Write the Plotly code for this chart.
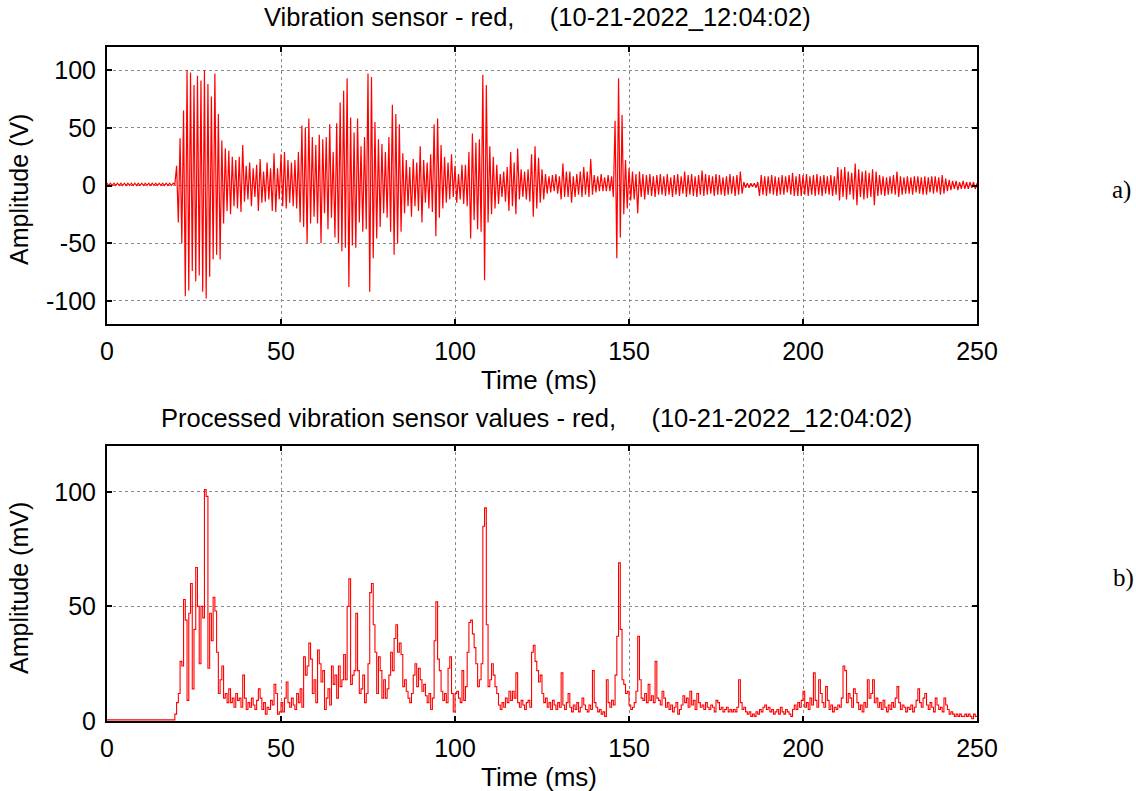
import numpy as np
import plotly.graph_objects as go

# ---------------- data ----------------
time_top_ms = np.arange(0, 250.5, 0.5)   # sample grid, 0.5 ms
vib_V = [
    # 0-10
    2, 0, 2, 0, 2, 0, 2, 0, 2, 0, 2, 0, 2, 0, 2, 0, 2, 0, 2, 0,
    # 10-20
    2, 0, 2, 0, 2, 0, 2, 0, 2, 0, 2, 0, 2, 0, 2, 0, 2, 0, 2, 1,
    # 20-30
    17, -32, 41, -50, 65, -96, 100, -91, 98, -74, 87, -83, 95, -78, 91, -92, 100, -98, 88, -79,
    # 30-40
    77, -64, 97, -60, 62, -64, 39, -33, 32, -22, 30, -25, 25, -18, 22, -20, 25, -23, 35, -14,
    # 40-50
    17, -12, 20, -18, 15, -10, 18, -22, 23, -15, 12, -14, 20, -12, 15, -22, 28, -23, 15, -12,
    # 50-60
    27, -18, 29, -20, 22, -15, 20, -18, 22, -20, 29, -32, 52, -36, 50, -50, 58, -33, 42, -27,
    # 60-70
    35, -33, 44, -50, 40, -24, 42, -38, 53, -28, 29, -45, 54, -50, 72, -57, 82, -54, 93, -88,
    # 70-80
    59, -52, 46, -54, 58, -32, 34, -40, 42, -38, 97, -92, 94, -63, 55, -46, 40, -36, 36, -24,
    # 80-90
    29, -28, 42, -40, 70, -60, 62, -50, 53, -40, 28, -24, 22, -18, 16, -27, 23, -18, 20, -22,
    # 90-100
    34, -32, 22, -15, 20, -20, 27, -23, 53, -44, 58, -28, 35, -20, 25, -15, 20, -12, 27, -10,
    # 100-110
    17, -15, 10, -12, 18, -16, 18, -18, 29, -46, 45, -30, 37, -38, 40, -40, 96, -82, 87, -32,
    # 110-120
    34, -25, 25, -20, 18, -16, 10, -10, 12, -14, 16, -22, 29, -18, 20, -25, 32, -12, 14, -10,
    # 120-130
    12, -12, 14, -14, 27, -27, 34, -20, 24, -15, 14, -12, 10, -7, 8, -6, 9, -5, 10, -7,
    # 130-140
    8, -12, 19, -10, 12, -10, 12, -15, 8, -10, 10, -8, 12, -10, 16, -8, 12, -10, 23, -8,
    # 140-150
    9, -6, 8, -5, 10, -5, 7, -5, 9, -5, 8, -10, 56, -63, 93, -45, 61, -25, 22, -20,
    # 150-160
    15, -13, 12, -12, 10, -24, 12, -10, 10, -12, 9, -8, 10, -9, 8, -10, 9, -8, 10, -8,
    # 160-170
    8, -9, 10, -8, 7, -10, 9, -8, 10, -9, 8, -7, 12, -10, 9, -8, 10, -9, 8, -10,
    # 170-180
    9, -8, 13, -9, 10, -8, 9, -7, 8, -9, 10, -8, 9, -8, 7, -9, 8, -8, 10, -7,
    # 180-190
    8, -9, 9, -8, 12, -7, 3, -2, 2, -2, 2, -1, 2, -2, 3, -9, 9, -8, 8, -9,
    # 190-200
    8, -7, 9, -8, 8, -9, 7, -8, 9, -8, 8, -6, 9, -8, 11, -9, 8, -9, 10, -9,
    # 200-210
    9, -8, 10, -9, 8, -8, 9, -9, 10, -8, 8, -9, 9, -7, 8, -8, 9, -9, 8, -8,
    # 210-220
    16, -13, 14, -10, 16, -12, 12, -8, 11, -12, 19, -17, 14, -10, 12, -12, 13, -11, 11, -10,
    # 220-230
    14, -17, 12, -9, 9, -8, 8, -9, 7, -8, 8, -7, 9, -8, 12, -10, 8, -8, 7, -7,
    # 230-240
    8, -7, 7, -8, 8, -6, 8, -7, 7, -8, 8, -8, 7, -6, 8, -7, 8, -6, 7, -8,
    # 240-250
    9, -7, 6, -5, 5, -4, 4, -3, 4, -4, 3, -3, 4, -3, 3, -3, 3, -2, 3, -3,
    # 250
    2,
]

time_bot_ms = np.arange(0, 250.5, 0.5)
proc_mV = [
    # 0-10
    0.5, 0.5, 0.5, 0.5, 0.5, 0.5, 0.5, 0.5, 0.5, 0.5, 0.5, 0.5, 0.5, 0.5, 0.5, 0.5, 0.5, 0.5, 0.5, 0.5,
    # 10-20
    0.5, 0.5, 0.5, 0.5, 0.5, 0.5, 0.5, 0.5, 0.5, 0.5, 0.5, 0.5, 0.5, 0.5, 0.5, 0.5, 0.5, 0.5, 0.5, 3,
    # 20-30
    8, 12, 26, 24, 53, 44, 9, 47, 60, 14, 40, 67, 50, 25, 50, 45, 101, 98, 23, 47,
    # 30-40
    35, 54, 48, 30, 12, 18, 24, 10, 12, 8, 14, 8, 10, 6, 12, 9, 10, 6, 20, 10,
    # 40-50
    5, 8, 6, 10, 7, 5, 9, 14, 10, 5, 8, 3, 6, 5, 9, 7, 16, 12, 3, 4,
    # 50-60
    8, 4, 10, 17, 8, 6, 10, 7, 5, 12, 8, 14, 6, 28, 20, 24, 34, 27, 12, 18,
    # 60-70
    8, 31, 25, 17, 22, 5, 10, 14, 7, 24, 16, 20, 10, 24, 15, 18, 29, 18, 50, 62,
    # 70-80
    16, 20, 22, 47, 22, 12, 14, 20, 8, 12, 25, 56, 60, 42, 30, 12, 28, 22, 10, 18,
    # 80-90
    10, 14, 20, 30, 22, 36, 42, 30, 34, 29, 15, 18, 13, 10, 8, 12, 20, 25, 15, 23,
    # 90-100
    18, 13, 16, 11, 8, 12, 5, 10, 35, 52, 27, 22, 13, 9, 12, 8, 23, 28, 12, 4,
    # 100-110
    12, 13, 10, 8, 22, 9, 15, 30, 43, 44, 38, 32, 25, 15, 18, 25, 85, 93, 42, 15,
    # 110-120
    18, 25, 20, 15, 12, 7, 5, 8, 6, 10, 8, 13, 9, 13, 10, 21, 8, 6, 9, 7,
    # 120-130
    5, 8, 9, 6, 30, 33, 26, 22, 17, 20, 12, 8, 10, 6, 8, 5, 9, 7, 5, 8,
    # 130-140
    6, 21, 7, 5, 8, 12, 6, 4, 7, 5, 8, 4, 6, 10, 7, 5, 4, 7, 5, 22,
    # 140-150
    8, 6, 4, 5, 3, 4, 2, 18, 8, 6, 9, 7, 20, 37, 69, 40, 18, 16, 12, 13,
    # 150-160
    7, 5, 6, 8, 13, 37, 18, 10, 9, 12, 8, 16, 9, 11, 8, 26, 10, 9, 7, 13,
    # 160-170
    10, 6, 8, 5, 7, 4, 6, 8, 3, 5, 7, 11, 8, 10, 6, 13, 7, 9, 5, 12,
    # 170-180
    8, 6, 7, 5, 8, 6, 5, 7, 6, 4, 9, 8, 5, 6, 4, 5, 6, 4, 5, 4,
    # 180-190
    5, 4, 6, 18, 8, 5, 6, 4, 3, 4, 2, 3, 2, 4, 3, 5, 4, 6, 7, 5,
    # 190-200
    6, 4, 5, 3, 4, 5, 3, 6, 4, 3, 5, 4, 3, 2, 5, 7, 5, 8, 6, 9,
    # 200-210
    13, 6, 8, 5, 10, 7, 21, 9, 6, 18, 12, 8, 6, 15, 9, 5, 7, 4, 6, 5,
    # 210-220
    7, 6, 10, 24, 22, 8, 12, 10, 6, 14, 12, 8, 5, 7, 4, 8, 6, 18, 10, 12,
    # 220-230
    18, 8, 10, 6, 8, 5, 9, 6, 4, 7, 5, 8, 6, 10, 15, 8, 5, 7, 6, 4,
    # 230-240
    6, 5, 7, 4, 6, 9, 14, 8, 6, 10, 12, 7, 5, 8, 6, 4, 10, 7, 5, 6,
    # 240-250
    4, 10, 7, 5, 3, 4, 3, 2, 3, 2, 3, 2, 2, 3, 2, 3, 2, 1, 3, 2,
    # 250
    2,
]

x_ticks = [0, 50, 100, 150, 200, 250]
x_ticktext = ["0", "50", "100", "150", "200", "250"]
y_ticks_top = [-100, -50, 0, 50, 100]
y_ticktext_top = ["-100", "-50", "0", "50", "100"]
y_ticks_bot = [0, 50, 100]
y_ticktext_bot = ["0", "50", "100"]

title_top = "Vibration sensor - red,\u00a0\u00a0\u00a0\u00a0 (10-21-2022_12:04:02)"
title_bot = "Processed vibration sensor values - red,\u00a0\u00a0\u00a0\u00a0 (10-21-2022_12:04:02)"

# ---------------- figure ----------------
W, H = 1136, 791
FONT = "Liberation Sans, Arial, sans-serif"
SERIF = "Liberation Serif, Times New Roman, serif"

def px_x(p):
    return p / W

def px_y(p):
    return 1 - p / H

fig = go.Figure()
fig.add_trace(go.Scatter(x=time_top_ms, y=vib_V, mode="lines",
                         line=dict(color="#ff0000", width=1.2),
                         xaxis="x", yaxis="y", showlegend=False))
fig.add_trace(go.Scatter(x=time_bot_ms, y=proc_mV, mode="lines",
                         line=dict(color="#ff0000", width=1.1, shape="hv"),
                         xaxis="x2", yaxis="y2", showlegend=False))

common_axis = dict(
    showline=True, linecolor="black", linewidth=2, mirror="ticks",
    ticks="inside", ticklen=5, tickwidth=1.5, tickcolor="black",
    showgrid=True, gridcolor="#8a8a8a", gridwidth=1, griddash="dot",
    zeroline=False, automargin=False,
    tickfont=dict(family=FONT, size=25, color="black"),
)

xdom = [px_x(107), px_x(977)]
fig.update_layout(
    width=W, height=H,
    margin=dict(l=0, r=0, t=0, b=0, pad=0, autoexpand=False),
    paper_bgcolor="white", plot_bgcolor="white",
    xaxis=dict(domain=xdom, range=[0, 250], tickvals=x_ticks, ticktext=x_ticktext,
               anchor="y", ticklabelstandoff=4, **common_axis),
    yaxis=dict(domain=[px_y(324), px_y(47)], range=[-120, 120], tickvals=y_ticks_top,
               ticktext=y_ticktext_top, anchor="x", ticklabelstandoff=4, **common_axis),
    xaxis2=dict(domain=xdom, range=[0, 250], tickvals=x_ticks, ticktext=x_ticktext,
                anchor="y2", ticklabelstandoff=4, **common_axis),
    yaxis2=dict(domain=[px_y(721), px_y(446)], range=[0, 120], tickvals=y_ticks_bot,
                ticktext=y_ticktext_bot, anchor="x2", ticklabelstandoff=4, **common_axis),
)

def ann(text, x, y, size=25, family=FONT, angle=0):
    fig.add_annotation(text=text, x=px_x(x), y=px_y(y), xref="paper", yref="paper",
                       showarrow=False, xanchor="center", yanchor="middle",
                       textangle=angle, font=dict(family=family, size=size, color="black"))

ann(title_top, 537, 17, size=25.5)
ann(title_bot, 536, 418, size=25.5)
ann("Time (ms)", 539, 380, size=26)
ann("Time (ms)", 539, 777, size=26)
ann("Amplitude (V)", 19, 190, angle=-90)
ann("Amplitude (mV)", 19, 588, angle=-90)
ann("a)", 1121, 190, size=25, family=SERIF)
ann("b)", 1123, 578, size=25, family=SERIF)

fig.write_html("out.html")
